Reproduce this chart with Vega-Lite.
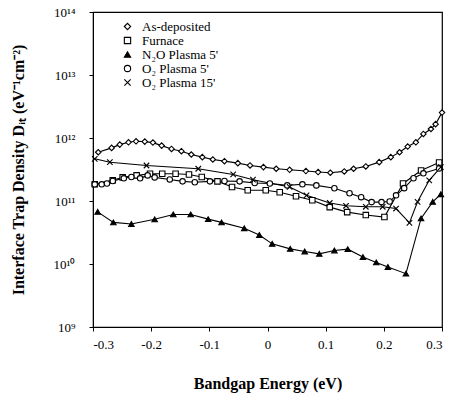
{
  "$schema": "https://vega.github.io/schema/vega-lite/v6.json",
  "autosize": "none",
  "width": 349,
  "height": 315,
  "padding": {"left": 93, "top": 12, "right": 8, "bottom": 84},
  "background": "white",
  "config": {
    "font": "Liberation Serif",
    "view": {"stroke": "black", "strokeWidth": 1.2},
    "axis": {"domainColor": "black", "tickColor": "black", "labelColor": "black", "titleColor": "black", "grid": false, "labelFont": "Liberation Serif", "titleFont": "Liberation Serif"},
    "legend": {"labelFont": "Liberation Serif"}
  },
  "data": {"values": [
    {"s": "As-deposited", "x": -0.291, "y": 5.94e11},
    {"s": "As-deposited", "x": -0.268, "y": 6.97e11},
    {"s": "As-deposited", "x": -0.254, "y": 7.85e11},
    {"s": "As-deposited", "x": -0.239, "y": 8.55e11},
    {"s": "As-deposited", "x": -0.226, "y": 8.87e11},
    {"s": "As-deposited", "x": -0.211, "y": 8.76e11},
    {"s": "As-deposited", "x": -0.197, "y": 8.45e11},
    {"s": "As-deposited", "x": -0.182, "y": 7.57e11},
    {"s": "As-deposited", "x": -0.165, "y": 6.71e11},
    {"s": "As-deposited", "x": -0.148, "y": 6.17e11},
    {"s": "As-deposited", "x": -0.131, "y": 5.47e11},
    {"s": "As-deposited", "x": -0.112, "y": 4.97e11},
    {"s": "As-deposited", "x": -0.094, "y": 4.56e11},
    {"s": "As-deposited", "x": -0.074, "y": 4.29e11},
    {"s": "As-deposited", "x": -0.051, "y": 3.99e11},
    {"s": "As-deposited", "x": -0.030, "y": 3.67e11},
    {"s": "As-deposited", "x": -0.007, "y": 3.45e11},
    {"s": "As-deposited", "x": 0.015, "y": 3.25e11},
    {"s": "As-deposited", "x": 0.038, "y": 3.13e11},
    {"s": "As-deposited", "x": 0.066, "y": 2.99e11},
    {"s": "As-deposited", "x": 0.087, "y": 2.88e11},
    {"s": "As-deposited", "x": 0.108, "y": 2.81e11},
    {"s": "As-deposited", "x": 0.132, "y": 2.95e11},
    {"s": "As-deposited", "x": 0.148, "y": 3.25e11},
    {"s": "As-deposited", "x": 0.169, "y": 3.54e11},
    {"s": "As-deposited", "x": 0.192, "y": 4.14e11},
    {"s": "As-deposited", "x": 0.212, "y": 4.97e11},
    {"s": "As-deposited", "x": 0.227, "y": 5.94e11},
    {"s": "As-deposited", "x": 0.241, "y": 7.31e11},
    {"s": "As-deposited", "x": 0.255, "y": 8.55e11},
    {"s": "As-deposited", "x": 0.268, "y": 1.16e12},
    {"s": "As-deposited", "x": 0.281, "y": 1.39e12},
    {"s": "As-deposited", "x": 0.289, "y": 1.66e12},
    {"s": "As-deposited", "x": 0.300, "y": 2.53e12},

    {"s": "Furnace", "x": -0.297, "y": 1.84e11},
    {"s": "Furnace", "x": -0.266, "y": 2.13e11},
    {"s": "Furnace", "x": -0.249, "y": 2.37e11},
    {"s": "Furnace", "x": -0.225, "y": 2.55e11},
    {"s": "Furnace", "x": -0.202, "y": 2.71e11},
    {"s": "Furnace", "x": -0.181, "y": 2.71e11},
    {"s": "Furnace", "x": -0.158, "y": 2.71e11},
    {"s": "Furnace", "x": -0.135, "y": 2.64e11},
    {"s": "Furnace", "x": -0.113, "y": 2.40e11},
    {"s": "Furnace", "x": -0.086, "y": 2.05e11},
    {"s": "Furnace", "x": -0.061, "y": 1.67e11},
    {"s": "Furnace", "x": -0.034, "y": 1.48e11},
    {"s": "Furnace", "x": -0.003, "y": 1.48e11},
    {"s": "Furnace", "x": 0.021, "y": 1.38e11},
    {"s": "Furnace", "x": 0.049, "y": 1.19e11},
    {"s": "Furnace", "x": 0.077, "y": 1.03e11},
    {"s": "Furnace", "x": 0.107, "y": 8.0e10},
    {"s": "Furnace", "x": 0.137, "y": 6.66e10},
    {"s": "Furnace", "x": 0.169, "y": 5.98e10},
    {"s": "Furnace", "x": 0.201, "y": 5.56e10},
    {"s": "Furnace", "x": 0.233, "y": 1.9e11},
    {"s": "Furnace", "x": 0.264, "y": 3.05e11},
    {"s": "Furnace", "x": 0.295, "y": 4.08e11},

    {"s": "N2O", "x": -0.292, "y": 6.73e10},
    {"s": "N2O", "x": -0.265, "y": 4.58e10},
    {"s": "N2O", "x": -0.234, "y": 4.32e10},
    {"s": "N2O", "x": -0.194, "y": 5.12e10},
    {"s": "N2O", "x": -0.162, "y": 6.12e10},
    {"s": "N2O", "x": -0.132, "y": 6.12e10},
    {"s": "N2O", "x": -0.102, "y": 5.16e10},
    {"s": "N2O", "x": -0.079, "y": 4.58e10},
    {"s": "N2O", "x": -0.040, "y": 3.69e10},
    {"s": "N2O", "x": -0.014, "y": 2.89e10},
    {"s": "N2O", "x": 0.008, "y": 2.09e10},
    {"s": "N2O", "x": 0.039, "y": 1.74e10},
    {"s": "N2O", "x": 0.064, "y": 1.58e10},
    {"s": "N2O", "x": 0.089, "y": 1.45e10},
    {"s": "N2O", "x": 0.115, "y": 1.64e10},
    {"s": "N2O", "x": 0.138, "y": 1.72e10},
    {"s": "N2O", "x": 0.164, "y": 1.29e10},
    {"s": "N2O", "x": 0.187, "y": 1.06e10},
    {"s": "N2O", "x": 0.207, "y": 8.97e9},
    {"s": "N2O", "x": 0.238, "y": 7.03e9},
    {"s": "N2O", "x": 0.264, "y": 5.3e10},
    {"s": "N2O", "x": 0.284, "y": 9.7e10},
    {"s": "N2O", "x": 0.298, "y": 1.28e11},

    {"s": "O2_5", "x": -0.297, "y": 1.84e11},
    {"s": "O2_5", "x": -0.285, "y": 1.84e11},
    {"s": "O2_5", "x": -0.276, "y": 1.9e11},
    {"s": "O2_5", "x": -0.266, "y": 2.08e11},
    {"s": "O2_5", "x": -0.247, "y": 2.29e11},
    {"s": "O2_5", "x": -0.234, "y": 2.4e11},
    {"s": "O2_5", "x": -0.219, "y": 2.29e11},
    {"s": "O2_5", "x": -0.206, "y": 2.55e11},
    {"s": "O2_5", "x": -0.194, "y": 2.37e11},
    {"s": "O2_5", "x": -0.168, "y": 2.2e11},
    {"s": "O2_5", "x": -0.146, "y": 2.05e11},
    {"s": "O2_5", "x": -0.125, "y": 1.98e11},
    {"s": "O2_5", "x": -0.099, "y": 2.05e11},
    {"s": "O2_5", "x": -0.074, "y": 2.08e11},
    {"s": "O2_5", "x": -0.048, "y": 2.05e11},
    {"s": "O2_5", "x": -0.022, "y": 1.93e11},
    {"s": "O2_5", "x": 0.004, "y": 1.9e11},
    {"s": "O2_5", "x": 0.034, "y": 1.77e11},
    {"s": "O2_5", "x": 0.060, "y": 1.84e11},
    {"s": "O2_5", "x": 0.084, "y": 1.77e11},
    {"s": "O2_5", "x": 0.115, "y": 1.59e11},
    {"s": "O2_5", "x": 0.141, "y": 1.33e11},
    {"s": "O2_5", "x": 0.161, "y": 1.15e11},
    {"s": "O2_5", "x": 0.179, "y": 9.6e10},
    {"s": "O2_5", "x": 0.196, "y": 9.6e10},
    {"s": "O2_5", "x": 0.210, "y": 9.8e10},
    {"s": "O2_5", "x": 0.221, "y": 1.23e11},
    {"s": "O2_5", "x": 0.235, "y": 1.6e11},
    {"s": "O2_5", "x": 0.251, "y": 2.3e11},
    {"s": "O2_5", "x": 0.268, "y": 2.75e11},
    {"s": "O2_5", "x": 0.295, "y": 3.29e11},

    {"s": "O2_15", "x": -0.297, "y": 4.67e11},
    {"s": "O2_15", "x": -0.271, "y": 4.13e11},
    {"s": "O2_15", "x": -0.208, "y": 3.66e11},
    {"s": "O2_15", "x": -0.119, "y": 3.25e11},
    {"s": "O2_15", "x": -0.059, "y": 2.64e11},
    {"s": "O2_15", "x": -0.025, "y": 2.18e11},
    {"s": "O2_15", "x": 0.038, "y": 1.67e11},
    {"s": "O2_15", "x": 0.067, "y": 1.23e11},
    {"s": "O2_15", "x": 0.107, "y": 9.3e10},
    {"s": "O2_15", "x": 0.135, "y": 8.4e10},
    {"s": "O2_15", "x": 0.169, "y": 8.1e10},
    {"s": "O2_15", "x": 0.198, "y": 8.1e10},
    {"s": "O2_15", "x": 0.221, "y": 7.6e10},
    {"s": "O2_15", "x": 0.244, "y": 4.5e10},
    {"s": "O2_15", "x": 0.258, "y": 9.7e10},
    {"s": "O2_15", "x": 0.278, "y": 2.13e11},
    {"s": "O2_15", "x": 0.298, "y": 3.44e11}
  ]},
  "layer": [
    {
      "mark": {"type": "line", "color": "black", "strokeWidth": 1.1, "clip": true},
      "encoding": {
        "x": {"field": "x", "type": "quantitative"},
        "y": {"field": "y", "type": "quantitative"},
        "detail": {"field": "s"},
        "order": {"field": "x", "type": "quantitative"}
      }
    },
    {
      "mark": {"type": "point", "filled": true, "stroke": "black", "strokeWidth": 1.1, "size": 30, "opacity": 1},
      "encoding": {
        "x": {"field": "x", "type": "quantitative",
          "scale": {"domain": [-0.3, 0.3], "nice": false, "zero": false},
          "axis": {"values": [-0.3, -0.25, -0.2, -0.15, -0.1, -0.05, 0, 0.05, 0.1, 0.15, 0.2, 0.25, 0.3], "labelExpr": "abs(round(datum.value*100)) % 10 != 0 ? '' : (round(datum.value*10) == 0 ? '0' : (datum.value < 0 ? '-' : '') + format(abs(datum.value), '.1f'))", "labelFontSize": 13, "labelPadding": 7, "tickSize": 4, "title": "Bandgap Energy (eV)", "titleFontSize": 16, "titleFontWeight": "bold", "titlePadding": 24}},
        "y": {"field": "y", "type": "quantitative",
          "scale": {"type": "log", "domain": [1e9, 1e14], "nice": false},
          "axis": {"values": [1e9, 1e10, 1e11, 1e12, 1e13, 1e14], "labelExpr": "round(log(datum.value)/LN10) == 9 ? '10⁹' : round(log(datum.value)/LN10) == 10 ? '10¹⁰' : round(log(datum.value)/LN10) == 11 ? '10¹¹' : round(log(datum.value)/LN10) == 12 ? '10¹²' : round(log(datum.value)/LN10) == 13 ? '10¹³' : '10¹⁴'", "labelFontSize": 13, "labelPadding": 14, "tickSize": 4, "title": "Interface Trap Density Dᵢₜ (eV⁻¹cm⁻²)", "titleFontSize": 16, "titleFontWeight": "bold", "titlePadding": 27}},
        "shape": {"field": "s", "type": "nominal", "title": null,
          "scale": {"domain": ["As-deposited", "Furnace", "N2O", "O2_5", "O2_15"],
            "range": ["diamond", "square", "triangle-up", "circle", "M-1,-1L1,1M-1,1L1,-1"]},
          "legend": {"orient": "none", "legendX": 28, "legendY": 8, "labelFontSize": 13, "symbolSize": 40, "symbolStrokeWidth": 1.1, "rowPadding": 0, "labelOffset": 8,
            "labelExpr": "datum.label == 'N2O' ? 'N₂O Plasma 5\\'' : datum.label == 'O2_5' ? 'O₂ Plasma 5\\'' : datum.label == 'O2_15' ? 'O₂ Plasma 15\\'' : datum.label"}},
        "fill": {"field": "s", "type": "nominal", "title": null,
          "scale": {"domain": ["As-deposited", "Furnace", "N2O", "O2_5", "O2_15"],
            "range": ["white", "white", "black", "white", "white"]}}
      }
    }
  ]
}
